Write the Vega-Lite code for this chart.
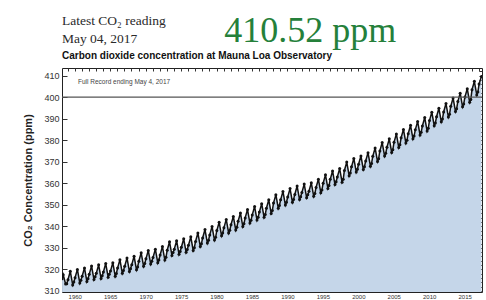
{
"$schema": "https://vega.github.io/schema/vega-lite/v6.json",
"width": 420, "height": 224,
"autosize": {"type": "none"},
"padding": {"left": 62, "top": 68, "right": 4, "bottom": 8},
"background": "white",
"config": {"view": {"stroke": "#222", "strokeWidth": 1}, "axis": {"grid": false, "domain": false, "labelFont": "Liberation Sans", "labelColor": "#333", "tickColor": "#333", "titleFont": "Liberation Sans"}},
"data": {"values": [
{"t":1958.21,"v":315.7},{"t":1958.37,"v":317.5},{"t":1958.71,"v":313.2},{"t":1958.87,"v":313.3},
{"t":1959.04,"v":315.2},{"t":1959.37,"v":319.1},{"t":1959.71,"v":312.8},{"t":1959.87,"v":314.1},
{"t":1960.04,"v":316.1},{"t":1960.37,"v":320.0},{"t":1960.71,"v":313.7},{"t":1960.87,"v":315.0},
{"t":1961.04,"v":316.8},{"t":1961.37,"v":320.7},{"t":1961.71,"v":314.4},{"t":1961.87,"v":315.7},
{"t":1962.04,"v":317.7},{"t":1962.37,"v":321.6},{"t":1962.71,"v":315.3},{"t":1962.87,"v":316.6},
{"t":1963.04,"v":318.2},{"t":1963.37,"v":322.1},{"t":1963.71,"v":315.8},{"t":1963.87,"v":317.1},
{"t":1964.04,"v":318.8},{"t":1964.37,"v":322.7},{"t":1964.71,"v":316.4},{"t":1964.87,"v":317.7},
{"t":1965.04,"v":319.2},{"t":1965.37,"v":323.1},{"t":1965.71,"v":316.8},{"t":1965.87,"v":318.1},
{"t":1966.04,"v":320.6},{"t":1966.37,"v":324.5},{"t":1966.71,"v":318.2},{"t":1966.87,"v":319.5},
{"t":1967.04,"v":321.4},{"t":1967.37,"v":325.3},{"t":1967.71,"v":319.0},{"t":1967.87,"v":320.3},
{"t":1968.04,"v":322.2},{"t":1968.37,"v":326.1},{"t":1968.71,"v":319.8},{"t":1968.87,"v":321.1},
{"t":1969.04,"v":323.8},{"t":1969.37,"v":327.7},{"t":1969.71,"v":321.4},{"t":1969.87,"v":322.7},
{"t":1970.04,"v":324.9},{"t":1970.37,"v":328.8},{"t":1970.71,"v":322.5},{"t":1970.87,"v":323.8},
{"t":1971.04,"v":325.5},{"t":1971.37,"v":329.4},{"t":1971.71,"v":323.1},{"t":1971.87,"v":324.4},
{"t":1972.04,"v":326.7},{"t":1972.37,"v":330.6},{"t":1972.71,"v":324.3},{"t":1972.87,"v":325.6},
{"t":1973.04,"v":328.9},{"t":1973.37,"v":332.8},{"t":1973.71,"v":326.5},{"t":1973.87,"v":327.8},
{"t":1974.04,"v":329.4},{"t":1974.37,"v":333.3},{"t":1974.71,"v":327.0},{"t":1974.87,"v":328.3},
{"t":1975.04,"v":330.3},{"t":1975.37,"v":334.2},{"t":1975.71,"v":327.9},{"t":1975.87,"v":329.2},
{"t":1976.04,"v":331.2},{"t":1976.37,"v":335.1},{"t":1976.71,"v":328.8},{"t":1976.87,"v":330.1},
{"t":1977.04,"v":333.0},{"t":1977.37,"v":336.9},{"t":1977.71,"v":330.6},{"t":1977.87,"v":331.9},
{"t":1978.04,"v":334.6},{"t":1978.37,"v":338.5},{"t":1978.71,"v":332.2},{"t":1978.87,"v":333.5},
{"t":1979.04,"v":336.0},{"t":1979.37,"v":339.9},{"t":1979.71,"v":333.6},{"t":1979.87,"v":334.9},
{"t":1980.04,"v":338.0},{"t":1980.37,"v":341.9},{"t":1980.71,"v":335.6},{"t":1980.87,"v":336.9},
{"t":1981.04,"v":339.3},{"t":1981.37,"v":343.2},{"t":1981.71,"v":336.9},{"t":1981.87,"v":338.2},
{"t":1982.04,"v":340.7},{"t":1982.37,"v":344.6},{"t":1982.71,"v":338.3},{"t":1982.87,"v":339.6},
{"t":1983.04,"v":342.3},{"t":1983.37,"v":346.2},{"t":1983.71,"v":339.9},{"t":1983.87,"v":341.2},
{"t":1984.04,"v":343.9},{"t":1984.37,"v":347.8},{"t":1984.71,"v":341.5},{"t":1984.87,"v":342.8},
{"t":1985.04,"v":345.3},{"t":1985.37,"v":349.2},{"t":1985.71,"v":342.9},{"t":1985.87,"v":344.2},
{"t":1986.04,"v":346.6},{"t":1986.37,"v":350.5},{"t":1986.71,"v":344.2},{"t":1986.87,"v":345.5},
{"t":1987.04,"v":348.4},{"t":1987.37,"v":352.3},{"t":1987.71,"v":346.0},{"t":1987.87,"v":347.3},
{"t":1988.04,"v":350.8},{"t":1988.37,"v":354.7},{"t":1988.71,"v":348.4},{"t":1988.87,"v":349.7},
{"t":1989.04,"v":352.3},{"t":1989.37,"v":356.2},{"t":1989.71,"v":349.9},{"t":1989.87,"v":351.2},
{"t":1990.04,"v":353.6},{"t":1990.37,"v":357.5},{"t":1990.71,"v":351.2},{"t":1990.87,"v":352.5},
{"t":1991.04,"v":354.8},{"t":1991.37,"v":358.7},{"t":1991.71,"v":352.4},{"t":1991.87,"v":353.7},
{"t":1992.04,"v":355.7},{"t":1992.37,"v":359.6},{"t":1992.71,"v":353.3},{"t":1992.87,"v":354.6},
{"t":1993.04,"v":356.3},{"t":1993.37,"v":360.2},{"t":1993.71,"v":353.9},{"t":1993.87,"v":355.2},
{"t":1994.04,"v":358.0},{"t":1994.37,"v":361.9},{"t":1994.71,"v":355.6},{"t":1994.87,"v":356.9},
{"t":1995.04,"v":360.0},{"t":1995.37,"v":363.9},{"t":1995.71,"v":357.6},{"t":1995.87,"v":358.9},
{"t":1996.04,"v":361.8},{"t":1996.37,"v":365.7},{"t":1996.71,"v":359.4},{"t":1996.87,"v":360.7},
{"t":1997.04,"v":362.9},{"t":1997.37,"v":366.8},{"t":1997.71,"v":360.5},{"t":1997.87,"v":361.8},
{"t":1998.04,"v":365.9},{"t":1998.37,"v":369.8},{"t":1998.71,"v":363.5},{"t":1998.87,"v":364.8},
{"t":1999.04,"v":367.6},{"t":1999.37,"v":371.5},{"t":1999.71,"v":365.2},{"t":1999.87,"v":366.5},
{"t":2000.04,"v":368.8},{"t":2000.37,"v":372.7},{"t":2000.71,"v":366.4},{"t":2000.87,"v":367.7},
{"t":2001.04,"v":370.3},{"t":2001.37,"v":374.2},{"t":2001.71,"v":367.9},{"t":2001.87,"v":369.2},
{"t":2002.04,"v":372.5},{"t":2002.37,"v":376.4},{"t":2002.71,"v":370.1},{"t":2002.87,"v":371.4},
{"t":2003.04,"v":375.0},{"t":2003.37,"v":378.9},{"t":2003.71,"v":372.6},{"t":2003.87,"v":373.9},
{"t":2004.04,"v":376.7},{"t":2004.37,"v":380.6},{"t":2004.71,"v":374.3},{"t":2004.87,"v":375.6},
{"t":2005.04,"v":379.0},{"t":2005.37,"v":382.9},{"t":2005.71,"v":376.6},{"t":2005.87,"v":377.9},
{"t":2006.04,"v":381.1},{"t":2006.37,"v":385.0},{"t":2006.71,"v":378.7},{"t":2006.87,"v":380.0},
{"t":2007.04,"v":383.0},{"t":2007.37,"v":386.9},{"t":2007.71,"v":380.6},{"t":2007.87,"v":381.9},
{"t":2008.04,"v":384.8},{"t":2008.37,"v":388.7},{"t":2008.71,"v":382.4},{"t":2008.87,"v":383.7},
{"t":2009.04,"v":386.6},{"t":2009.37,"v":390.5},{"t":2009.71,"v":384.2},{"t":2009.87,"v":385.5},
{"t":2010.04,"v":389.1},{"t":2010.37,"v":393.0},{"t":2010.71,"v":386.7},{"t":2010.87,"v":388.0},
{"t":2011.04,"v":390.9},{"t":2011.37,"v":394.8},{"t":2011.71,"v":388.5},{"t":2011.87,"v":389.8},
{"t":2012.04,"v":393.1},{"t":2012.37,"v":397.0},{"t":2012.71,"v":390.7},{"t":2012.87,"v":392.0},
{"t":2013.04,"v":395.7},{"t":2013.37,"v":399.6},{"t":2013.71,"v":393.3},{"t":2013.87,"v":394.6},
{"t":2014.04,"v":397.9},{"t":2014.37,"v":401.8},{"t":2014.71,"v":395.5},{"t":2014.87,"v":396.8},
{"t":2015.04,"v":400.0},{"t":2015.37,"v":403.9},{"t":2015.71,"v":397.6},{"t":2015.87,"v":398.9},
{"t":2016.04,"v":403.4},{"t":2016.37,"v":407.3},{"t":2016.71,"v":401.0},{"t":2016.87,"v":402.3},
{"t":2017.04,"v":406.1},{"t":2017.37,"v":409.6}
]},
"layer": [
{"mark": {"type": "area", "color": "#c5d6e9", "clip": true},
 "encoding": {
  "x": {"field": "t", "type": "quantitative", "scale": {"domain": [1958.2, 2017.45], "nice": false, "zero": false},
        "axis": {"orient": "bottom", "values": [1960,1965,1970,1975,1980,1985,1990,1995,2000,2005,2010,2015], "format": "d", "tickSize": -5, "labelPadding": 6, "labelFontSize": 6, "title": null, "labelFlush": false}},
  "y": {"field": "v", "type": "quantitative", "scale": {"domain": [309.5, 413.5], "nice": false, "zero": false},
        "axis": {"orient": "left", "values": [310,320,330,340,350,360,370,380,390,400,410], "tickSize": -5, "labelPadding": 8, "labelFontSize": 9, "title": "CO₂ Concentration (ppm)", "titleFontSize": 11, "titleFontWeight": "bold", "titleColor": "#222", "titlePadding": 10}},
  "y2": {"datum": 309.5}}},
{"mark": {"type": "line", "color": "#111", "strokeWidth": 1.5, "clip": true, "point": {"filled": true, "size": 9, "color": "#111"}},
 "encoding": {
  "x": {"field": "t", "type": "quantitative", "axis": {"orient": "top", "values": [1959,1960,1961,1962,1963,1964,1965,1966,1967,1968,1969,1970,1971,1972,1973,1974,1975,1976,1977,1978,1979,1980,1981,1982,1983,1984,1985,1986,1987,1988,1989,1990,1991,1992,1993,1994,1995,1996,1997,1998,1999,2000,2001,2002,2003,2004,2005,2006,2007,2008,2009,2010,2011,2012,2013,2014,2015,2016,2017], "labels": false, "tickSize": -3, "title": null}},
  "y": {"field": "v", "type": "quantitative", "axis": {"orient": "right", "values": [310,312,314,316,318,320,322,324,326,328,330,332,334,336,338,340,342,344,346,348,350,352,354,356,358,360,362,364,366,368,370,372,374,376,378,380,382,384,386,388,390,392,394,396,398,400,402,404,406,408,410,412], "labels": false, "tickSize": -3, "title": null}}}},
{"data": {"values": [{"level": 400}]},
 "mark": {"type": "rule", "color": "#555", "strokeWidth": 1.2},
 "encoding": {"y": {"field": "level", "type": "quantitative", "axis": null}}},
{"data": {"values": [{"t": 1960.46, "v": 407.1, "label": "Full Record ending May 4, 2017"}]},
 "mark": {"type": "text", "align": "left", "baseline": "middle", "fontSize": 6.5, "font": "Liberation Sans", "color": "#444"},
 "encoding": {"x": {"field": "t", "type": "quantitative", "axis": null}, "y": {"field": "v", "type": "quantitative", "axis": null}, "text": {"field": "label"}}},
{"data": {"values": [{"t": 1958.2, "v": 433.5, "label": "Latest CO₂ reading"}, {"t": 1958.2, "v": 425.1, "label": "May 04, 2017"}]},
 "mark": {"type": "text", "align": "left", "baseline": "alphabetic", "fontSize": 13.5, "font": "Liberation Serif", "color": "#2a2a2a"},
 "encoding": {"x": {"field": "t", "type": "quantitative", "axis": null}, "y": {"field": "v", "type": "quantitative", "axis": null}, "text": {"field": "label"}}},
{"data": {"values": [{"t": 1981.1, "v": 425.6, "label": "410.52 ppm"}]},
 "mark": {"type": "text", "align": "left", "baseline": "alphabetic", "fontSize": 36, "font": "Liberation Serif", "color": "#25803a"},
 "encoding": {"x": {"field": "t", "type": "quantitative", "axis": null}, "y": {"field": "v", "type": "quantitative", "axis": null}, "text": {"field": "label"}}},
{"data": {"values": [{"t": 1958.2, "v": 417.7, "label": "Carbon dioxide concentration at Mauna Loa Observatory"}]},
 "mark": {"type": "text", "align": "left", "baseline": "alphabetic", "fontSize": 10, "fontWeight": "bold", "font": "Liberation Sans", "color": "#111"},
 "encoding": {"x": {"field": "t", "type": "quantitative", "axis": null}, "y": {"field": "v", "type": "quantitative", "axis": null}, "text": {"field": "label"}}}
],
"resolve": {"axis": {"x": "independent", "y": "independent"}}
}
